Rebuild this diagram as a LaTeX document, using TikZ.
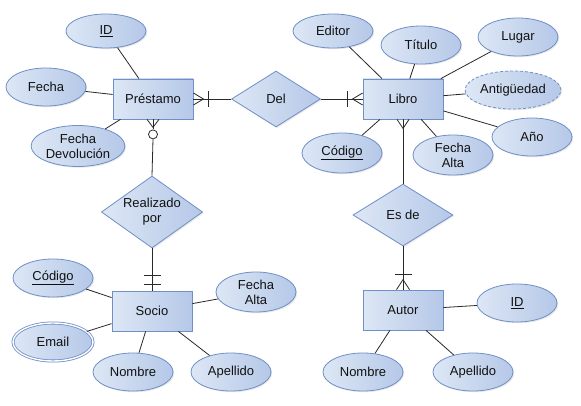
\documentclass[tikz,border=0pt]{standalone}
\usepackage{fontspec}
\setmainfont{Liberation Sans}
\usetikzlibrary{positioning,calc,shapes.geometric,shadows}
\definecolor{erlight}{HTML}{DDE7F5}
\definecolor{erdark}{HTML}{B5C8E8}
\definecolor{erline}{HTML}{6F8FC6}
\definecolor{ink}{HTML}{111111}
\tikzset{
  erbase/.style={draw=erline, line width=0.8pt, left color=erlight, right color=erdark,
    font=\fontsize{13}{15}\selectfont, text=ink, align=center, inner sep=1pt,
    drop shadow={opacity=0.18, shadow xshift=1.2pt, shadow yshift=-1.2pt}},
  entidad/.style={erbase, rectangle, minimum width=80, minimum height=40},
  atributo/.style={erbase, ellipse, minimum width=80, minimum height=38},
  derivado/.style={atributo, dash pattern=on 3pt off 2pt},
  multivalor/.style={atributo, double=white, double distance=1.4pt},
  relacion/.style={erbase, diamond, aspect=1.6, inner sep=0pt},
  link/.style={draw=ink!90, line width=0.8pt}
}
\begin{document}
\begin{tikzpicture}[x=1pt,y=-1pt]
\useasboundingbox (0,0) rectangle (581,406);
% ---- entities
\node[entidad] (prest) at (153,99)  {Préstamo};
\node[entidad] (libro) at (403,99)  {Libro};
\node[entidad] (socio) at (152,311) {Socio};
\node[entidad] (autor) at (403,310) {Autor};
% ---- relationships
\node[relacion, minimum width=89, minimum height=56] (del)    at (276,99)  {Del};
\node[relacion, minimum width=99, minimum height=72] (realiz) at (152,212) {Realizado\\por};
\node[relacion, minimum width=100, minimum height=62] (esde)  at (403,215) {Es de};
% ---- attributes of Préstamo
\node[atributo, minimum height=34] (pID)    at (106,31)  {\underline{ID}};
\node[atributo] (pFecha)    at (46,87)   {Fecha};
\node[atributo, minimum height=41] (pFechaDev) at (78,146) {Fecha\\Devolución};
% ---- attributes of Libro
\node[atributo, minimum height=34] (lEditor) at (333,31) {Editor};
\node[atributo] (lTitulo)  at (421,45)  {Título};
\node[atributo] (lLugar)   at (518,37)  {Lugar};
\node[derivado] (lAntig)   at (513,90)  {Antigüedad};
\node[atributo] (lAnio)    at (532,137) {Año};
\node[atributo, minimum height=40] (lCodigo) at (342,153) {\underline{Código}};
\node[atributo, minimum height=40] (lFechaAlta) at (453,155) {Fecha\\Alta};
% ---- attributes of Socio
\node[atributo] (sCodigo)    at (53,278)  {\underline{Código}};
\node[multivalor] (sEmail)   at (53,342)  {Email};
\node[atributo] (sNombre)    at (133,372) {Nombre};
\node[atributo] (sApellido)  at (231,372) {Apellido};
\node[atributo, minimum height=40] (sFechaAlta) at (256,292) {Fecha\\Alta};
% ---- attributes of Autor
\node[atributo] (aID)       at (517,303) {\underline{ID}};
\node[atributo] (aNombre)   at (363,372) {Nombre};
\node[atributo] (aApellido) at (473,372) {Apellido};
% ---- attribute links
\foreach \a in {pID,pFecha,pFechaDev} { \draw[link] (prest) -- (\a); }
\foreach \a in {lEditor,lTitulo,lLugar,lAntig,lAnio,lCodigo,lFechaAlta} { \draw[link] (libro) -- (\a); }
\foreach \a in {sCodigo,sEmail,sNombre,sApellido,sFechaAlta} { \draw[link] (socio) -- (\a); }
\foreach \a in {aID,aNombre,aApellido} { \draw[link] (autor) -- (\a); }
% ---- Préstamo -- Del -- Libro: one-or-many on both entity ends
\draw[link] (prest.east) -- (del.west);
\draw[link] ([yshift=6]prest.east) -- ([xshift=10]prest.east) -- ([yshift=-6]prest.east);
\draw[link] ([xshift=15,yshift=8]prest.east) -- ([xshift=15,yshift=-8]prest.east);
\draw[link] (del.east) -- (libro.west);
\draw[link] ([yshift=6]libro.west) -- ([xshift=-10]libro.west) -- ([yshift=-6]libro.west);
\draw[link] ([xshift=-15,yshift=8]libro.west) -- ([xshift=-15,yshift=-8]libro.west);
% ---- Préstamo -- Realizado por -- Socio: zero-or-many / exactly one
\node[circle, draw=ink!90, line width=0.8pt, fill=white, minimum size=9, inner sep=0pt] (pcero) at ([yshift=-15]prest.south) {};
\draw[link] (prest.south) -- (pcero.north);
\draw[link] ([xshift=-6]prest.south) -- ([yshift=-8]prest.south) -- ([xshift=6]prest.south);
\draw[link] (pcero.south) -- (realiz.north);
\draw[link] (realiz.south) -- (socio.north);
\draw[link] ([xshift=-8.5,yshift=6]socio.north) -- ([xshift=8.5,yshift=6]socio.north);
\draw[link] ([xshift=-8.5,yshift=15]socio.north) -- ([xshift=8.5,yshift=15]socio.north);
% ---- Libro -- Es de -- Autor: many / one-or-many
\draw[link] (libro.south) -- (esde.north);
\draw[link] ([xshift=-6]libro.south) -- ([yshift=-9]libro.south) -- ([xshift=6]libro.south);
\draw[link] (esde.south) -- (autor.north);
\draw[link] ([xshift=-6.5]autor.north) -- ([yshift=10]autor.north) -- ([xshift=6.5]autor.north);
\draw[link] ([xshift=-8.5,yshift=15]autor.north) -- ([xshift=8.5,yshift=15]autor.north);
\end{tikzpicture}
\end{document}
